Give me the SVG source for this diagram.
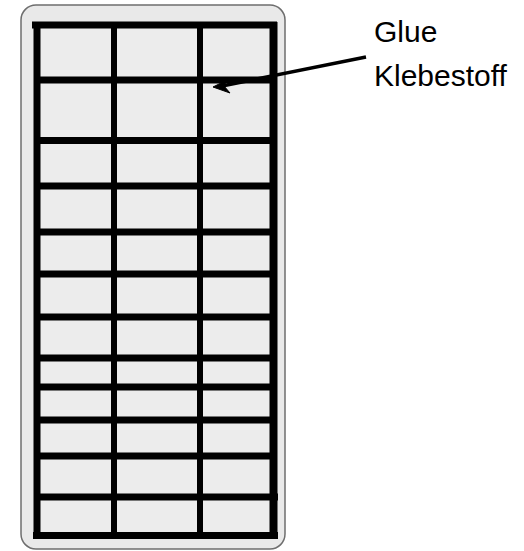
<svg xmlns="http://www.w3.org/2000/svg" width="524" height="551" viewBox="0 0 524 551">
<style>
.g{stroke:#000;stroke-width:7;stroke-linecap:butt;fill:none}
.v{stroke:#000;stroke-width:6;fill:none}
.t{font-family:"Liberation Sans",Arial,sans-serif;font-size:30px;fill:#000}
</style>
<rect width="524" height="551" fill="#fff"/>
<g id="panel">
<rect x="21" y="5" width="264" height="544" rx="15" ry="15" fill="#e9e9e9" stroke="#6e6e6e" stroke-width="1.5"/>
<rect x="37" y="25" width="236" height="510" fill="#ececec"/>
</g>
<g id="grid">
<line class="v" x1="37" y1="22" x2="37" y2="539" style="stroke-width:7"/>
<line class="v" x1="273.5" y1="22" x2="273.5" y2="539" style="stroke-width:8"/>
<line class="v" x1="114" y1="25" x2="114" y2="535"/>
<line class="v" x1="200" y1="25" x2="200" y2="535"/>
<line class="g" x1="32" y1="25" x2="277" y2="25"/>
<line class="g" x1="37" y1="80" x2="273" y2="80"/>
<line class="g" x1="37" y1="140.5" x2="273" y2="140.5"/>
<line class="g" x1="40" y1="186" x2="273" y2="186"/>
<line class="g" x1="40" y1="232" x2="273" y2="232"/>
<line class="g" x1="37" y1="274" x2="273" y2="274"/>
<line class="g" x1="37" y1="317" x2="273" y2="317"/>
<line class="g" x1="40" y1="358" x2="273" y2="358"/>
<line class="g" x1="40" y1="387" x2="273" y2="387"/>
<line class="g" x1="40" y1="420" x2="273" y2="420"/>
<line class="g" x1="40" y1="456" x2="273" y2="456"/>
<line class="g" x1="40" y1="497" x2="278" y2="497"/>
<line class="g" x1="33" y1="535.5" x2="278" y2="535.5"/>
</g>
<g id="connectors">
<line x1="366" y1="57" x2="222" y2="86" stroke="#000" stroke-width="3.5"/>
<polygon points="213,87 227,80 224,86 230,93" fill="#000" stroke="#000" stroke-width="1"/>
</g>
<g id="label">
<text class="t" x="374" y="42">Glue</text>
<text class="t" x="374" y="86">Klebestoff</text>
</g>
</svg>
